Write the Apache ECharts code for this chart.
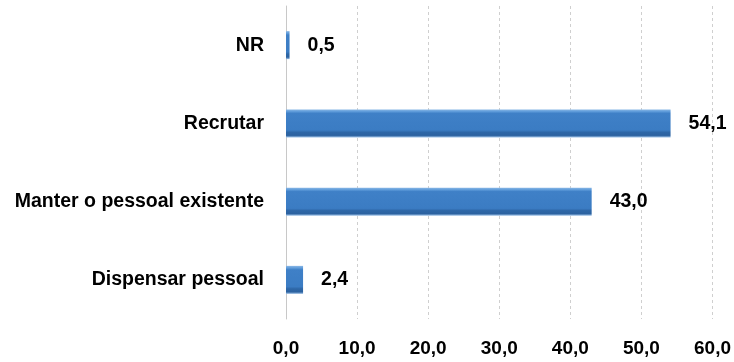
<!DOCTYPE html>
<html><head><meta charset="utf-8">
<script src="https://cdn.jsdelivr.net/npm/echarts@6/dist/echarts.min.js"></script>
<style>html,body{margin:0;padding:0;background:#fff}#c{width:734px;height:362px}</style>
</head><body><div id="c"></div>
<script>
const categories = ['Dispensar pessoal', 'Manter o pessoal existente', 'Recrutar', 'NR'];
const values = [2.4, 43.0, 54.1, 0.5];
const tickValues = [0, 10, 20, 30, 40, 50, 60];

const chart = echarts.init(document.getElementById('c'));
const fmt = v => v.toFixed(1).replace('.', ',');
const font = '"Liberation Sans", Arial, sans-serif';
chart.setOption({
  animation: false,
  grid: { left: 286, right: 21, top: 6, bottom: 43 },
  xAxis: {
    type: 'value', min: 0, max: 60, interval: 10,
    axisLine: { show: false }, axisTick: { show: false },
    splitLine: { show: true, lineStyle: { color: '#cfcfcf', type: [3, 3], width: 1 } },
    axisLabel: { formatter: v => fmt(v), color: '#000', fontWeight: 'bold', fontSize: 19, fontFamily: font, margin: 20 }
  },
  yAxis: {
    type: 'category', data: categories,
    axisLine: { show: true, lineStyle: { color: '#c8c8c8', width: 1 } },
    axisTick: { show: false },
    axisLabel: { color: '#000', fontWeight: 'bold', fontSize: 19.5, fontFamily: font, margin: 22 }
  },
  series: [{
    type: 'bar', data: values, barWidth: 28,
    itemStyle: {
      color: new echarts.graphic.LinearGradient(0, 0, 0, 1, [
        { offset: 0, color: '#8ab8e6' },
        { offset: 0.08, color: '#5d9ad9' },
        { offset: 0.14, color: '#3f80c7' },
        { offset: 0.74, color: '#3b7cc3' },
        { offset: 0.82, color: '#2e67a7' },
        { offset: 0.93, color: '#2c62a0' },
        { offset: 1, color: '#9cc0e6' }
      ]),
      borderWidth: 0
    },
    label: {
      show: true, position: 'right', distance: 18,
      formatter: p => fmt(p.value), color: '#000', fontWeight: 'bold', fontSize: 19.5, fontFamily: font
    }
  }]
});
</script></body></html>
